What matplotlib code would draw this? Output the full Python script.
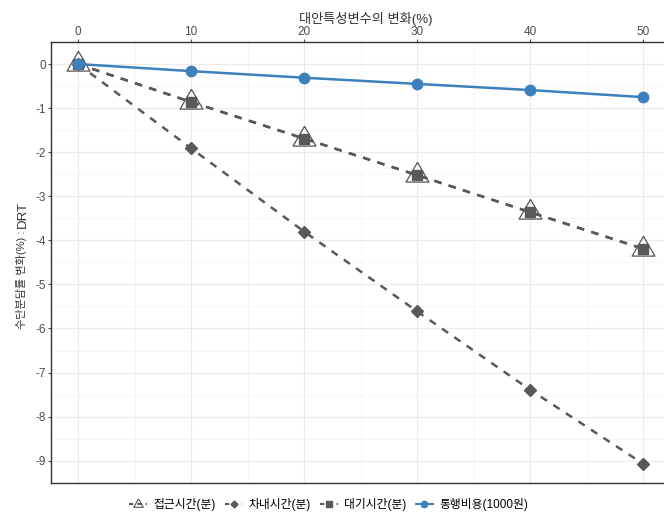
import matplotlib
matplotlib.use("Agg")
import matplotlib.pyplot as plt
from matplotlib.lines import Line2D

plt.rcParams['font.family'] = ['Liberation Sans', 'Noto Sans CJK KR', 'DejaVu Sans']
plt.rcParams['axes.unicode_minus'] = False

x = [0, 10, 20, 30, 40, 50]
access = [0, -0.86, -1.69, -2.52, -3.36, -4.19]
invehicle = [0, -1.91, -3.80, -5.61, -7.39, -9.07]
wait = [0, -0.86, -1.69, -2.52, -3.36, -4.19]
cost = [0, -0.16, -0.31, -0.45, -0.59, -0.75]
labels = ['접근시간(분)', '차내시간(분)', '대기시간(분)', '통행비용(1000원)']

gray = '#595959'
blue = '#3C80BC'
tri = [(0, 1), (-0.866, -0.5), (0.866, -0.5), (0, 1)]

fig = plt.figure(figsize=(6.64, 5.24), dpi=100)
x0_px, x1_px = 51, 680
ax = fig.add_axes([x0_px / 664, 0.0788, (x1_px - x0_px) / 664, 0.841])

ax.plot(x, access, color=gray, ls=(0, (3, 3)), lw=1.8, marker=tri, ms=19,
        mfc='none', mec='#555555', mew=0.9, zorder=3)
ax.plot(x, invehicle, color=gray, ls=(0, (3, 3)), lw=1.8, marker='D', ms=6,
        mfc=gray, mec=gray, zorder=3)
ax.plot(x, wait, color=gray, ls=(0, (3, 3)), lw=1.8, marker='s', ms=7.5,
        mfc=gray, mec=gray, zorder=3)
ax.plot(x, cost, color=blue, ls='-', lw=1.8, marker='o', ms=7.5,
        mfc=blue, mec=blue, zorder=4)

ax.set_xlim(-2.39, 53.27)
ax.set_ylim(-9.47, 0.47)
ax.xaxis.tick_top()
ax.xaxis.set_label_position('top')
ax.set_xticks(x)
ax.set_yticks(range(-9, 1))
ax.set_xticks([5, 15, 25, 35, 45], minor=True)
ax.set_yticks([i + 0.5 for i in range(-10, 1)], minor=True)
ax.grid(True, which='major', color='#EBEBEB', lw=0.8)
ax.grid(True, which='minor', color='#F4F4F4', lw=0.6)
ax.set_axisbelow(True)
ax.tick_params(which='major', labelsize=8.5, colors='#4D4D4D', length=2.5, width=0.8, pad=1.0)
ax.tick_params(axis='x', which='major', pad=0.3)
ax.tick_params(which='minor', length=0)
for s in ax.spines.values():
    s.set_color('#333333')
    s.set_linewidth(1.0)

ax.set_xlabel('대안특성변수의 변화(%)', fontsize=9.5, color='#333333', labelpad=2)

fig.text(0.033, 1 - 280 / 524, '수단분담률 변화(%) :', rotation=90, fontsize=8,
         color='#333333', ha='center', va='center')
fig.text(0.035, 1 - 214 / 524, 'DRT', rotation=90, fontsize=9.5, color='#333333',
         ha='center', va='center')

handles = [
    Line2D([], [], color=gray, ls=(0, (2, 2)), lw=1.5, marker=tri, ms=8, mfc='none', mec='#555555', mew=0.8),
    Line2D([], [], color=gray, ls=(0, (2, 2)), lw=1.5, marker='D', ms=3.5, mfc=gray, mec=gray),
    Line2D([], [], color=gray, ls=(0, (2, 2)), lw=1.5, marker='s', ms=4.5, mfc=gray, mec=gray),
    Line2D([], [], color=blue, ls='-', lw=1.5, marker='o', ms=4.5, mfc=blue, mec=blue),
]
fig.legend(handles, labels, loc='center', bbox_to_anchor=(0.495, 0.037), ncol=4,
           frameon=False, fontsize=8.5, handlelength=1.5, handletextpad=0.5,
           columnspacing=0.8)

fig.savefig('out.png', dpi=100)
